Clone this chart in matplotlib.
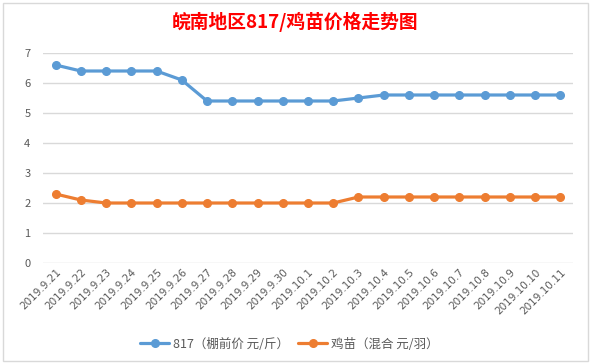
import matplotlib
matplotlib.use("Agg")
import matplotlib.pyplot as plt
from matplotlib.patches import Rectangle

plt.rcParams['font.family'] = ['Noto Sans CJK SC', 'DejaVu Sans']

dates = ["2019.9.21", "2019.9.22", "2019.9.23", "2019.9.24", "2019.9.25", "2019.9.26",
         "2019.9.27", "2019.9.28", "2019.9.29", "2019.9.30", "2019.10.1", "2019.10.2",
         "2019.10.3", "2019.10.4", "2019.10.5", "2019.10.6", "2019.10.7", "2019.10.8",
         "2019.10.9", "2019.10.10", "2019.10.11"]
price_817 = [6.6, 6.4, 6.4, 6.4, 6.4, 6.1, 5.4, 5.4, 5.4, 5.4, 5.4, 5.4,
             5.5, 5.6, 5.6, 5.6, 5.6, 5.6, 5.6, 5.6, 5.6]
price_chick = [2.3, 2.1, 2.0, 2.0, 2.0, 2.0, 2.0, 2.0, 2.0, 2.0, 2.0, 2.0,
               2.2, 2.2, 2.2, 2.2, 2.2, 2.2, 2.2, 2.2, 2.2]
yticks = [0, 1, 2, 3, 4, 5, 6, 7]
title = "皖南地区817/鸡苗价格走势图"
labels = ["817（棚前价 元/斤）", "鸡苗（混合 元/羽）"]

fig = plt.figure(figsize=(5.91, 3.64), dpi=100)
fig.patch.set_facecolor('white')
fig.patches.append(Rectangle((3/591, 3/364), 585/591, 358/364, transform=fig.transFigure,
                             fill=False, edgecolor='#D9D9D9', linewidth=1.0))

ax = fig.add_axes([43/591, 101/364, 530/591, 210/364])
x = list(range(len(dates)))
ax.plot(x, price_817, color='#5B9BD5', linewidth=2.3, marker='o', markersize=5.5,
        label=labels[0], solid_capstyle='round')
ax.plot(x, price_chick, color='#ED7D31', linewidth=2.3, marker='o', markersize=5.5,
        label=labels[1], solid_capstyle='round')

ax.set_xlim(-0.5, len(dates) - 0.5)
ax.set_ylim(0, 7)
ax.set_yticks(yticks)
ax.set_yticklabels([str(v) for v in yticks])
ax.set_xticks(x)
ax.set_xticklabels(dates, rotation=45, ha='right', rotation_mode='anchor',
                   fontsize=7.5, color='#595959', family=['DejaVu Sans'])
ax.tick_params(axis='y', length=0, pad=9, labelsize=8, labelcolor='#595959')
ax.tick_params(axis='x', length=0, pad=3)
ax.grid(axis='y', color='#D9D9D9', linewidth=1.0)
ax.set_axisbelow(True)
for s in ax.spines.values():
    s.set_visible(False)

fig.text(0.5, 0.94, title, ha='center', va='center', fontsize=13.5, fontweight='bold',
         color='#FF0000')

fig.legend(loc='center', bbox_to_anchor=(0.49, 20/364), ncol=2, frameon=False,
           fontsize=9, labelcolor='#595959', handlelength=2.3, handletextpad=0.35,
           columnspacing=0.7)

fig.savefig('out.png', dpi=100, facecolor='white')
